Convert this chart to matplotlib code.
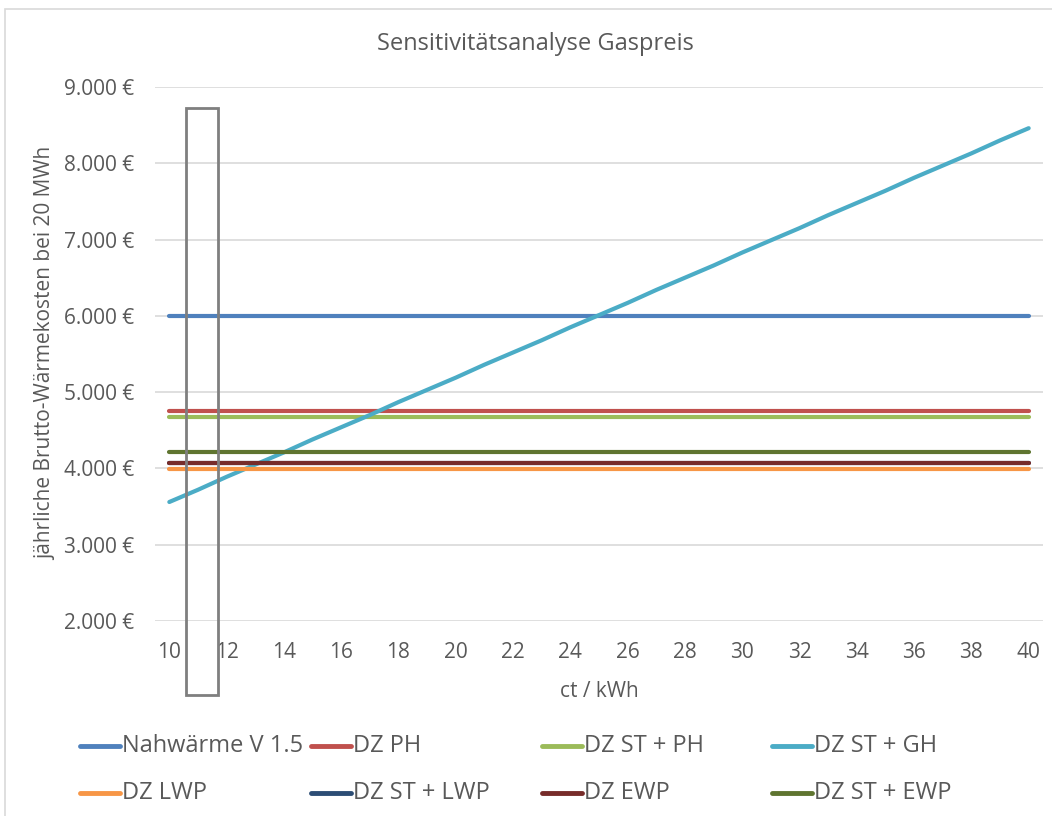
import matplotlib
matplotlib.use("Agg")
import matplotlib.pyplot as plt
from matplotlib.patches import Rectangle
from matplotlib.lines import Line2D
from matplotlib.ticker import FuncFormatter

plt.rcParams['font.family'] = ['Open Sans', 'DejaVu Sans']

# Gas price in ct/kWh
gas_price = list(range(10, 41))

# Annual gross heating costs (EUR) at 20 MWh
series_names = ["Nahwärme V 1.5", "DZ PH", "DZ ST + PH", "DZ ST + GH",
                "DZ LWP", "DZ ST + LWP", "DZ EWP", "DZ ST + EWP"]
nahwaerme = 6000
dz_ph = 4750
dz_st_ph = 4670
dz_st_gh = [3560, 3720, 3890, 4050, 4210, 4380, 4540, 4700, 4870, 5030,
            5190, 5360, 5520, 5680, 5850, 6010, 6170, 6340, 6500, 6660,
            6830, 6990, 7150, 7320, 7480, 7640, 7810, 7970, 8130, 8300, 8460]
dz_lwp = 3990
dz_st_lwp = 4070
dz_ewp = 4070
dz_st_ewp = 4210

colors = ["#4F81BD", "#C0504D", "#9BBB59", "#4BACC6",
          "#F79646", "#2C4D75", "#772C2A", "#5F7530"]

values = [[nahwaerme] * len(gas_price), [dz_ph] * len(gas_price),
          [dz_st_ph] * len(gas_price), dz_st_gh,
          [dz_lwp] * len(gas_price), [dz_st_lwp] * len(gas_price),
          [dz_ewp] * len(gas_price), [dz_st_ewp] * len(gas_price)]

TEXT = '#595959'

fig = plt.figure(figsize=(10.52, 8.16), dpi=100)
ax = fig.add_axes([155 / 1052, 1 - 621 / 816, (1043 - 155) / 1052, (621 - 87) / 816])

for name, vals, col in zip(series_names, values, colors):
    ax.plot(gas_price, vals, color=col, lw=3, solid_capstyle='round', label=name, zorder=3)

ax.set_xlim(9.5, 40.5)
ax.set_ylim(2000, 9000)
ax.set_xticks(range(10, 41, 2))
ax.set_yticks(range(2000, 9001, 1000))
ax.yaxis.set_major_formatter(FuncFormatter(lambda v, p: f"{int(v):,} €".replace(",", ".")))
ax.grid(axis='y', color='#d9d9d9', lw=1.2, zorder=0)
for s in ax.spines.values():
    s.set_visible(False)
ax.tick_params(length=0, colors=TEXT, labelsize=15)
ax.tick_params(axis='x', pad=15)
ax.tick_params(axis='y', pad=15)

ax.set_xlabel("ct / kWh", color=TEXT, fontsize=15, labelpad=13)
fig.text(46 / 1052, 1 - 353 / 816, "jährliche Brutto-Wärmekosten bei 20 MWh",
         rotation=90, ha='center', va='center', color=TEXT, fontsize=15)
fig.text(535 / 1052, 1 - 44 / 816, "Sensitivitätsanalyse Gaspreis",
         ha='center', va='center', color=TEXT, fontsize=17)

# Highlight box around the current price range
ax.add_patch(Rectangle((10.59, 1030), 11.71 - 10.59, 8725 - 1030, fill=False,
                       edgecolor='#7f7f7f', lw=2, clip_on=False, zorder=5))

# Legend: two rows of four entries
col_x = [80, 311, 542, 772]
row_y = [746, 793]
for i, name in enumerate(series_names):
    r, c = divmod(i, 4)
    x0 = col_x[c] / 1052
    y0 = 1 - row_y[r] / 816
    fig.add_artist(Line2D([x0, x0 + 40 / 1052], [y0, y0], color=colors[i], lw=3.5,
                          solid_capstyle='round', transform=fig.transFigure))
    fig.text(x0 + 42 / 1052, y0, name, ha='left', va='center',
             color=TEXT, fontsize=17)

# Chart area border
fig.add_artist(Rectangle((5 / 1052, -0.1), 1.2, 1 - 9 / 816 + 0.1, fill=False,
                         edgecolor='#d9d9d9', lw=1.2, transform=fig.transFigure))

fig.savefig("out.png", dpi=100, facecolor='white')
